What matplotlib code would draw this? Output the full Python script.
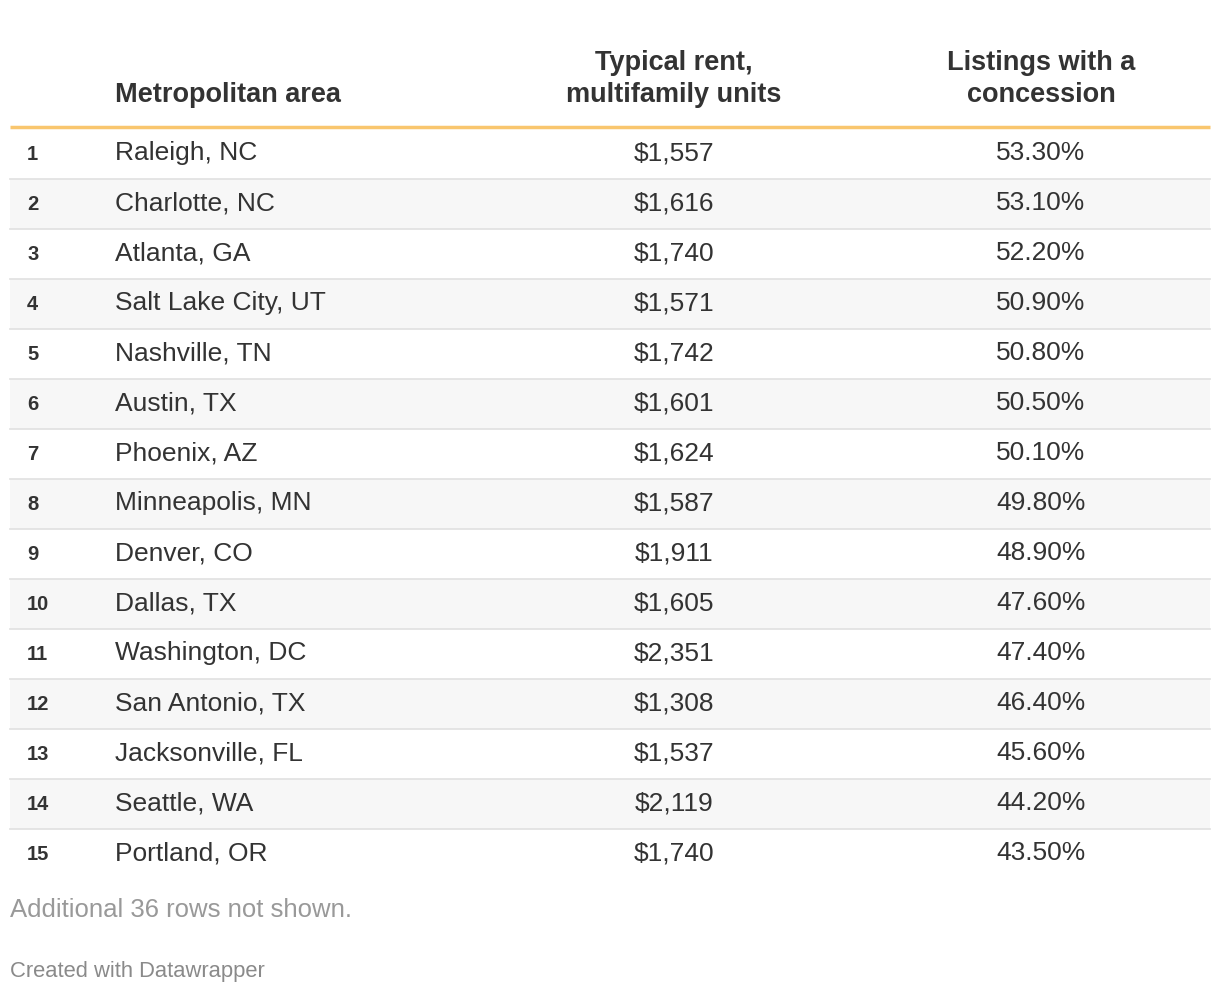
import matplotlib.pyplot as plt
from matplotlib.patches import Rectangle

metros = ['Raleigh, NC', 'Charlotte, NC', 'Atlanta, GA', 'Salt Lake City, UT',
          'Nashville, TN', 'Austin, TX', 'Phoenix, AZ', 'Minneapolis, MN',
          'Denver, CO', 'Dallas, TX', 'Washington, DC', 'San Antonio, TX',
          'Jacksonville, FL', 'Seattle, WA', 'Portland, OR']
rents = [1557, 1616, 1740, 1571, 1742, 1601, 1624, 1587, 1911, 1605,
         2351, 1308, 1537, 2119, 1740]
concessions = [53.3, 53.1, 52.2, 50.9, 50.8, 50.5, 50.1, 49.8, 48.9, 47.6,
               47.4, 46.4, 45.6, 44.2, 43.5]
headers = ['Metropolitan area', 'Typical rent,\nmultifamily units',
           'Listings with a\nconcession']
note = 'Additional 36 rows not shown.'
credit = 'Created with Datawrapper'

plt.rcParams['font.family'] = ['Liberation Sans', 'DejaVu Sans']

fig = plt.figure(figsize=(12.2, 9.96), dpi=100)
ax = fig.add_axes([0, 0, 1, 1])
ax.set_xlim(0, 1220)
ax.set_ylim(996, 0)
ax.axis('off')

left, right = 10, 1210
top = 129
row_h = 50
dark = '#333333'
col_x = [115, 674, 1041]
col_ha = ['left', 'center', 'center']

# header, bottom line of each header sits on the same baseline
for x, ha, h in zip(col_x, col_ha, headers):
    lines = h.split('\n')
    for k, line in enumerate(lines):
        yb = 102 - 32 * (len(lines) - 1 - k)
        ax.text(x, yb, line, ha=ha, va='baseline', fontsize=19.5,
                fontweight='bold', color=dark)
ax.plot([left, right], [127, 127], color='#f9c66e', lw=2.5,
        solid_capstyle='butt')

for i, name in enumerate(metros):
    y0 = top + i * row_h
    if i % 2 == 1:
        ax.add_patch(Rectangle((left, y0), right - left, row_h,
                               facecolor='#f7f7f7', edgecolor='none'))
    if i < len(metros) - 1:
        ax.plot([left, right], [y0 + row_h, y0 + row_h], color='#e3e3e3',
                lw=1.3)
    yb = y0 + 31
    ax.text(27, yb, str(i + 1), ha='left', va='baseline', fontsize=14.5,
            fontweight='bold', color=dark)
    ax.text(col_x[0], yb, name, ha='left', va='baseline', fontsize=19,
            color=dark)
    ax.text(col_x[1], yb, f'${rents[i]:,}', ha='center', va='baseline',
            fontsize=19, color=dark)
    ax.text(col_x[2], yb, f'{concessions[i]:.2f}%', ha='center',
            va='baseline', fontsize=19, color=dark)

ax.text(10, 917, note, ha='left', va='baseline', fontsize=18.5,
        color='#999999')
ax.text(10, 977, credit, ha='left', va='baseline', fontsize=15.8,
        color='#8a8a8a')

fig.savefig('out.png', dpi=100, facecolor='white')
